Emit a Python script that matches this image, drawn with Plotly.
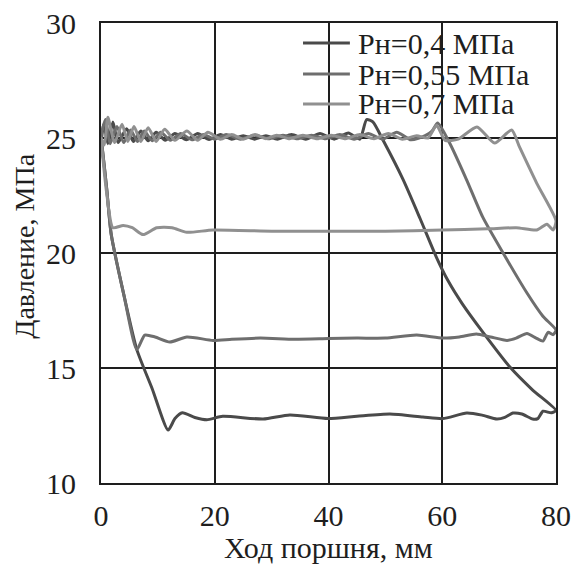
import plotly.graph_objects as go

# Series names
names = ["Рн=0,4 МПа", "Рн=0,55 МПа", "Рн=0,7 МПа"]
colors = ["#4a4a4a", "#6e6e6e", "#909090"]

# Рн=0,4 МПа : upper branch (0 -> 80) then lower branch back (80 -> 0)
x_04 = [0, 0.5, 1.2, 2.1, 3.0, 4.5, 5.7, 7.0, 8.3, 9.7, 11.3, 13.0, 15.0, 17.0, 19.0, 21.0, 23.0, 25.0, 27.0,
        29.0, 31.0, 33.5, 36, 38.5, 41, 43.5, 45.5, 46.7, 47.8, 49.6, 53.1, 56.1, 59.0, 61.0, 63.5, 67.1, 71.9,
        75.9, 80,
        79.2, 77.7, 76.8, 75.9, 74, 72.4, 71, 69.6, 67, 64.3, 60.1, 56.6, 50.8, 45, 39.9, 33.2, 28.5, 21.4,
        18.6, 16.5, 14.3, 13, 11.8, 9.0, 6.3, 4.0, 1.8, 1.0, 0.3, 0]
y_04 = [24.8, 25.6, 24.75, 25.7, 24.8, 25.4, 24.85, 25.3, 24.88, 25.25, 24.9, 25.2, 24.92, 25.2, 24.93, 25.15,
        24.95, 25.1, 24.95, 25.1, 24.95, 25.15, 24.95, 25.2, 24.95, 25.22, 24.95, 25.8, 25.7, 24.9, 23.2, 21.5,
        19.8, 18.8, 17.8, 16.57, 15.04, 14.04, 13.15,
        13.05, 13.12, 12.8, 12.78, 13.0, 13.04, 12.85, 12.78, 12.95, 13.04, 12.8, 12.87, 13.0, 12.9, 12.8,
        12.96, 12.78, 12.9, 12.75, 12.85, 13.05, 12.8, 12.3, 14.1, 15.8, 18.2, 20.8, 22.8, 24.4, 25.0]

# Рн=0,55 МПа
x_055 = [0, 0.8, 1.6, 2.8, 4.0, 5.2, 6.4, 7.6, 9.0, 10.5, 12.2, 14.0, 16, 18, 20, 22, 24.5, 27, 29.5, 32,
         34.5, 37, 39.5, 42, 44.5, 47, 49.5, 52, 54.5, 57, 58.2, 59.2, 61.3, 64.3, 67.1, 70.7, 74.9, 77.7, 80,
         79.5, 78.6, 77.7, 76.5, 74.9, 73, 71.4, 68.5, 66, 63, 60.1, 55.5, 50, 45, 40, 34, 28, 23, 19.7, 15.1,
         12.1, 9.5, 7.7, 6.3, 4.0, 1.8, 1.0, 0.3, 0]
y_055 = [25.0, 25.8, 24.75, 25.5, 24.8, 25.35, 24.85, 25.3, 24.88, 25.25, 24.9, 25.2, 24.92, 25.15, 24.95,
         25.15, 24.95, 25.12, 24.97, 25.12, 24.97, 25.12, 24.97, 25.15, 24.95, 25.2, 24.95, 25.25, 24.92, 25.1,
         25.3, 25.65, 24.78, 23.17, 21.57, 20.0, 18.26, 17.25, 16.65,
         16.45, 16.55, 16.17, 16.3, 16.5, 16.3, 16.2, 16.35, 16.48, 16.35, 16.3, 16.43, 16.3, 16.3, 16.28,
         16.25, 16.3, 16.25, 16.2, 16.35, 16.13, 16.35, 16.43, 15.8, 18.2, 20.8, 22.8, 24.4, 25.0]

# Рн=0,7 МПа
x_07 = [0, 0.6, 1.2, 2.4, 3.7, 4.7, 5.8, 7.0, 8.3, 9.7, 11.2, 13.0, 15.1, 17.0, 18.8, 21.0, 23.0, 25.0, 27.1,
        29.0, 30.9, 33, 35.5, 38, 40.5, 43, 45.5, 48, 50.5, 53, 55.5, 57.5, 59.0, 60.5, 62.8, 66.1, 69.2, 72.2,
        73.6, 76.6, 80,
        79.5, 78.4, 76.6, 73, 68, 60, 50, 40, 30, 19.7, 15.1, 12.5, 9.8, 7.4, 5.5, 3.9, 2.1, 1.0, 0.3, 0]
y_07 = [25.0, 24.7, 25.9, 24.8, 25.6, 24.85, 25.5, 24.85, 25.45, 24.85, 25.38, 24.9, 25.3, 24.9, 25.25, 24.95,
        25.15, 24.95, 25.15, 24.97, 25.12, 24.97, 25.12, 24.97, 25.12, 24.97, 25.15, 24.97, 25.2, 24.95, 25.1,
        25.0, 25.55, 24.9, 24.95, 25.48, 24.78, 25.35, 24.6, 23.04, 21.4,
        21.0, 21.25, 21.0, 21.1, 21.05, 21.0, 20.95, 20.95, 20.95, 21.0, 20.9, 21.1, 21.1, 20.8, 21.1, 21.2,
        21.1, 22.6, 24.2, 25.0]

xs = [x_04, x_055, x_07]
ys = [y_04, y_055, y_07]

x_ticks = [0, 20, 40, 60, 80]
y_ticks = [10, 15, 20, 25, 30]

FONT = "Liberation Serif, Times New Roman, serif"
INK = "#1e1e1e"

fig = go.Figure()
for name, c, x, y in zip(names, colors, xs, ys):
    fig.add_trace(go.Scatter(x=x, y=y, mode="lines", name=name, showlegend=False,
                             line=dict(color=c, width=3, shape="spline", smoothing=0.6)))

axis_common = dict(showgrid=True, gridcolor=INK, gridwidth=2, showline=True, mirror=True,
                   linecolor=INK, linewidth=2, zeroline=False, ticks="", automargin=False,
                   ticklabeloverflow="allow",
                   tickfont=dict(family=FONT, size=30, color=INK))

# Legend drawn as line samples + text labels in the upper right of the plot
leg_rows = [0.9565, 0.889, 0.824]
shapes = []
annotations = []
for name, c, yr in zip(names, colors, leg_rows):
    shapes.append(dict(type="line", xref="paper", yref="paper", x0=0.444, x1=0.547, y0=yr, y1=yr,
                       line=dict(color=c, width=3)))
    annotations.append(dict(text=name, xref="paper", yref="paper", x=0.56, y=yr, xanchor="left",
                            yanchor="middle", showarrow=False,
                            font=dict(family=FONT, size=30, color=INK)))

annotations.append(dict(text="Давление, МПа", textangle=-90, xref="paper", yref="paper",
                        x=-0.168, y=0.515, xanchor="center", yanchor="middle", showarrow=False,
                        font=dict(family=FONT, size=28, color=INK)))
annotations.append(dict(text="Ход поршня, мм", xref="paper", yref="paper",
                        x=0.5, y=-0.14, xanchor="center", yanchor="middle", showarrow=False,
                        font=dict(family=FONT, size=30, color=INK)))

fig.update_layout(
    width=572, height=568,
    margin=dict(l=101, r=16, t=23, b=85),
    paper_bgcolor="white", plot_bgcolor="white",
    font=dict(family=FONT, size=30, color=INK),
    xaxis=dict(range=[0, 80], tickvals=x_ticks, ticklabelstandoff=5, **axis_common),
    yaxis=dict(range=[10, 30], tickvals=y_ticks, ticklabelstandoff=17, **axis_common),
    showlegend=False,
    shapes=shapes,
    annotations=annotations,
)

# remove the default page margin so the 572x568 figure fills the window exactly
fig.write_html("out.html", config={"displayModeBar": False},
               post_script="document.body.style.margin='0';document.body.style.overflow='hidden';")
